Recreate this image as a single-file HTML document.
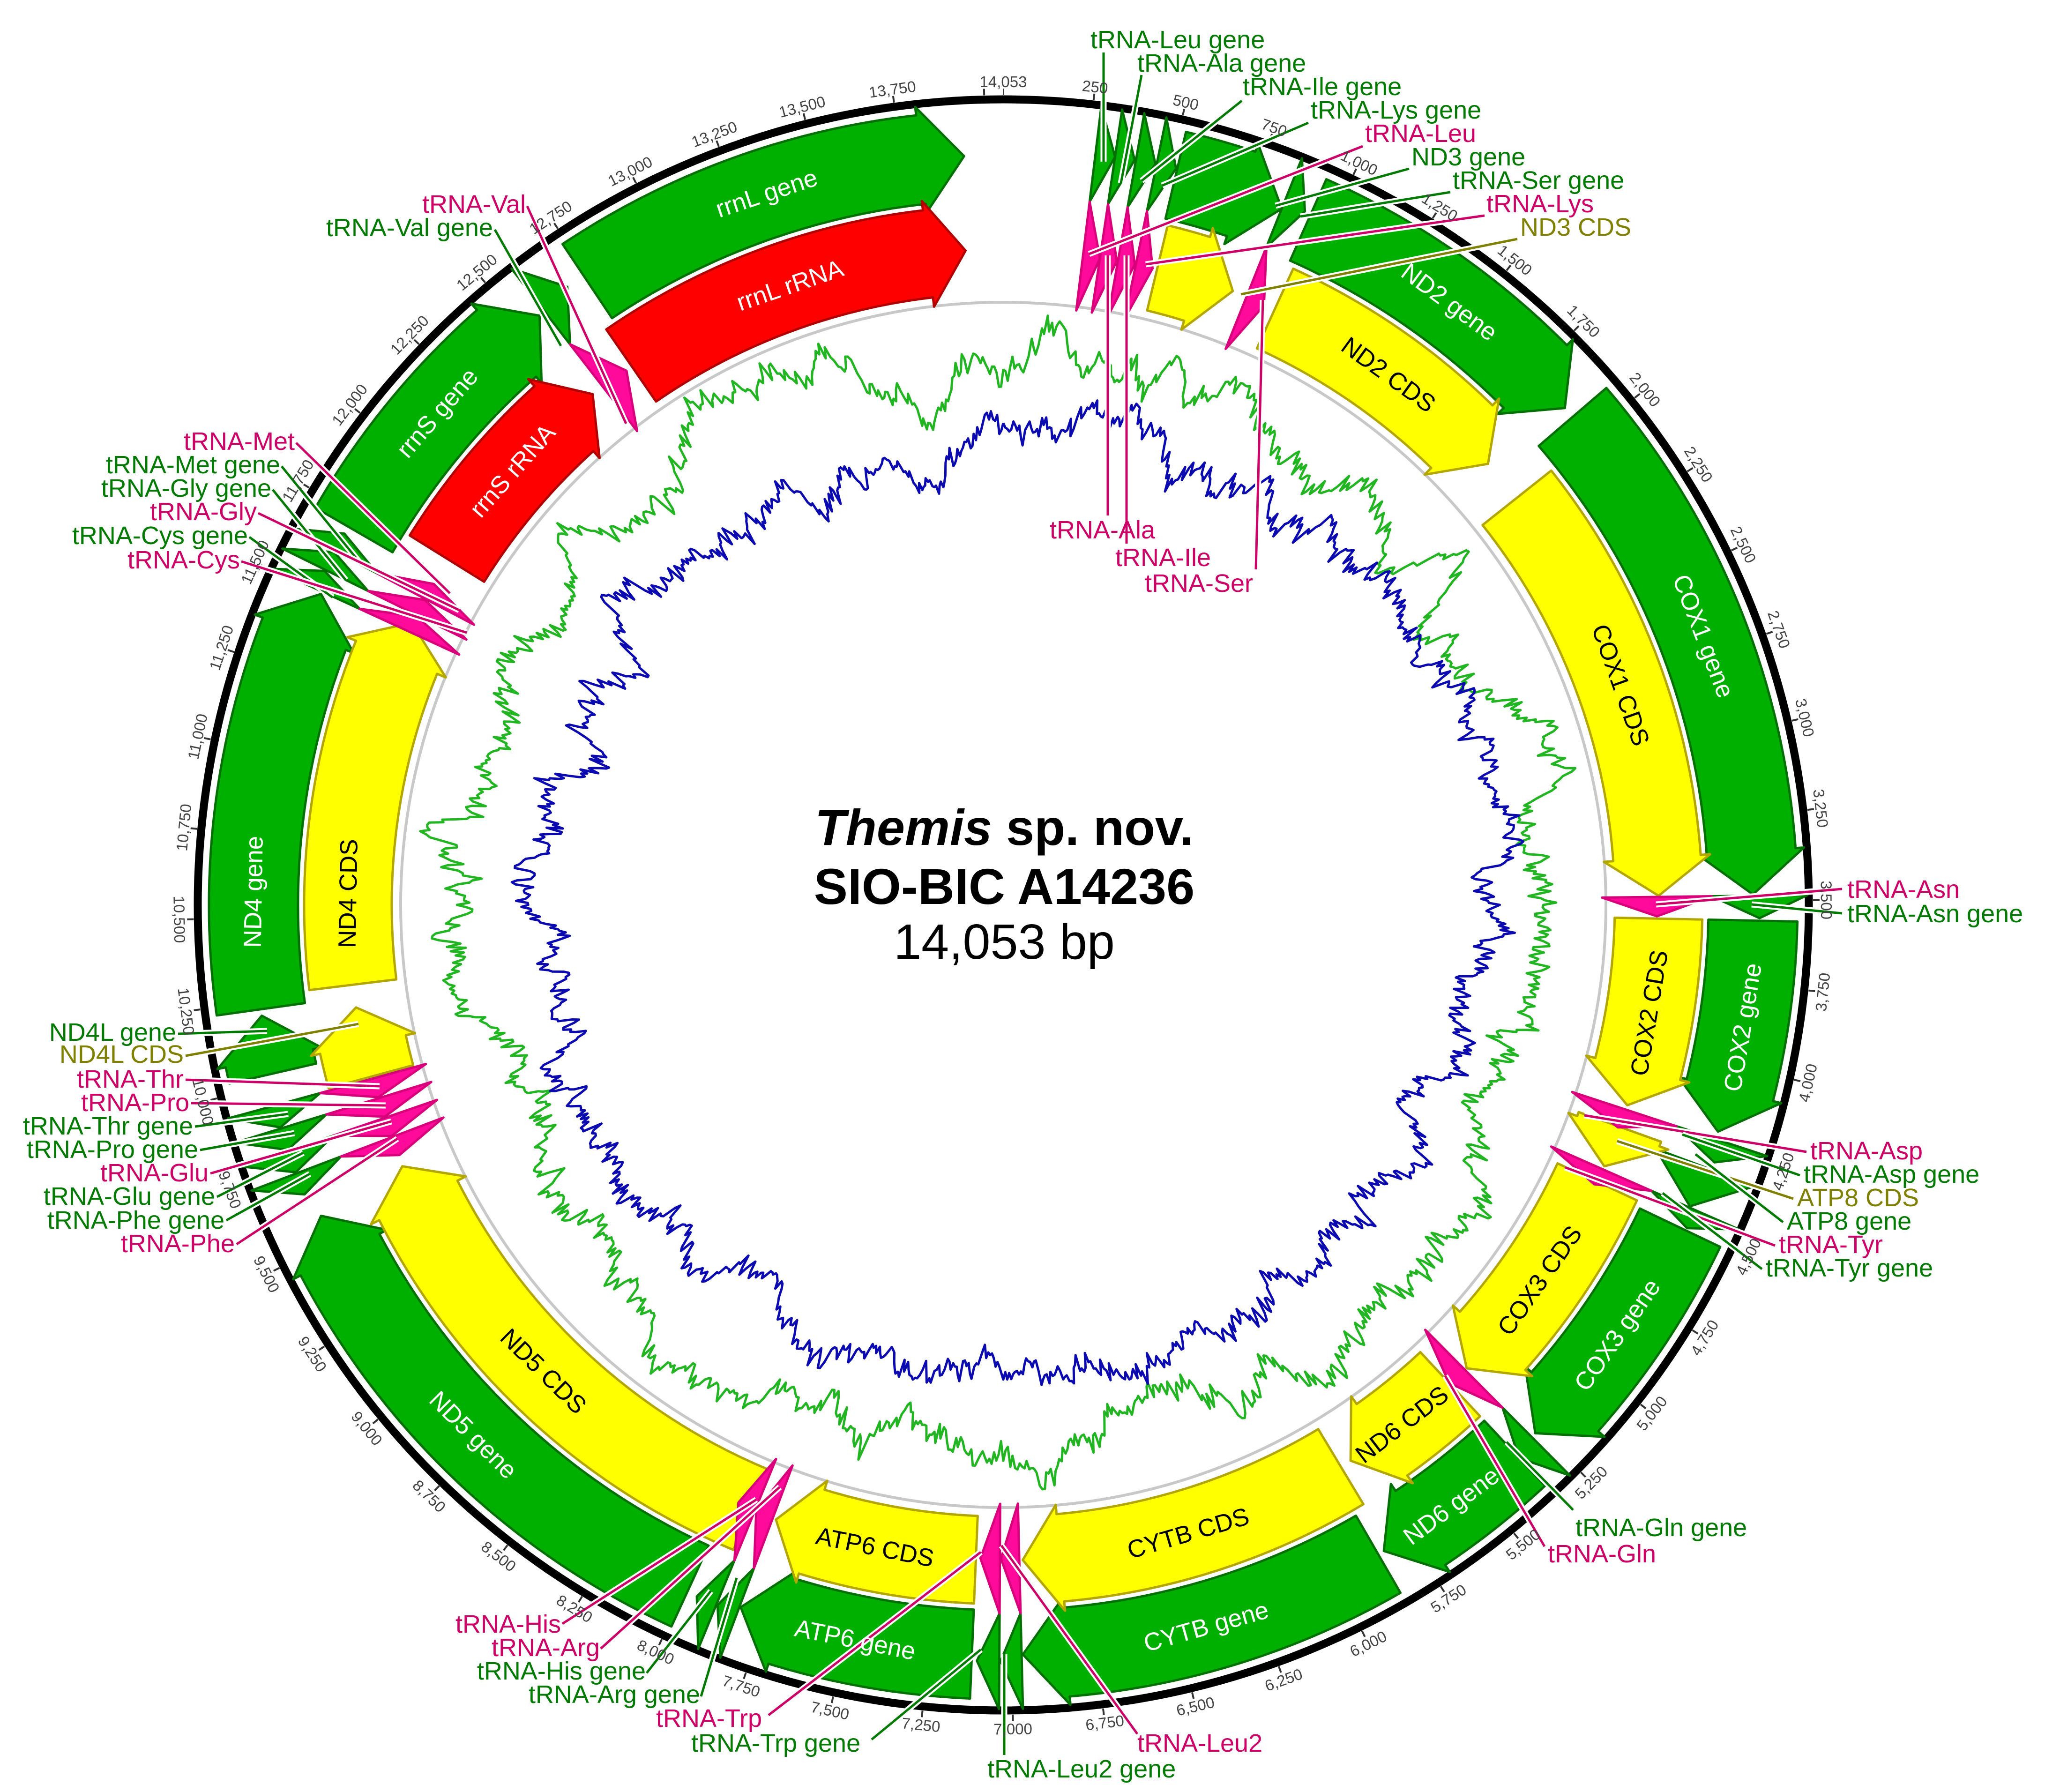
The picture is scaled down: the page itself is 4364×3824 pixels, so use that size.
<!DOCTYPE html>
<html><head><meta charset="utf-8"><style>
html,body{margin:0;padding:0;background:#fff;}
svg{display:block;}
.t{font-family:"Liberation Sans",sans-serif;font-size:54px;}
.tk{font-family:"Liberation Sans",sans-serif;font-size:33px;fill:#444;text-anchor:middle;}
.in{font-family:"Liberation Sans",sans-serif;font-size:53px;text-anchor:middle;dominant-baseline:central;}
.p{fill:#cc0066;} .g{fill:#007a00;} .o{fill:#808000;}
</style></head><body>
<svg id="s" xmlns="http://www.w3.org/2000/svg" width="4364" height="3824" viewBox="0 0 4364 3824">
<rect width="4364" height="3824" fill="#fff"/>
<circle cx="2141" cy="1931" r="1719" fill="none" stroke="#000" stroke-width="17"/>
<circle cx="2141" cy="1931" r="1735" fill="none" stroke="#333" stroke-width="14" stroke-dasharray="4 189.93" stroke-dashoffset="2" transform="rotate(-90 2141 1931)"/>
<circle cx="2141" cy="1931" r="1286" fill="none" stroke="#c8c8c8" stroke-width="6"/>
<g id="plot"></g>
<g id="feat"></g>
<g id="lead"></g>

<g class="tk">
<text x="2141" y="186">14,053</text>
<text transform="rotate(6.405 2141 1931)" x="2141" y="186">250</text>
<text transform="rotate(12.809 2141 1931)" x="2141" y="186">500</text>
<text transform="rotate(19.214 2141 1931)" x="2141" y="186">750</text>
<text transform="rotate(25.618 2141 1931)" x="2141" y="186">1,000</text>
<text transform="rotate(32.023 2141 1931)" x="2141" y="186">1,250</text>
<text transform="rotate(38.428 2141 1931)" x="2141" y="186">1,500</text>
<text transform="rotate(44.832 2141 1931)" x="2141" y="186">1,750</text>
<text transform="rotate(51.237 2141 1931)" x="2141" y="186">2,000</text>
<text transform="rotate(57.641 2141 1931)" x="2141" y="186">2,250</text>
<text transform="rotate(64.046 2141 1931)" x="2141" y="186">2,500</text>
<text transform="rotate(70.451 2141 1931)" x="2141" y="186">2,750</text>
<text transform="rotate(76.855 2141 1931)" x="2141" y="186">3,000</text>
<text transform="rotate(83.260 2141 1931)" x="2141" y="186">3,250</text>
<text transform="rotate(89.665 2141 1931)" x="2141" y="186">3,500</text>
<text transform="rotate(-83.931 2141 1931)" x="2141" y="3701">3,750</text>
<text transform="rotate(-77.526 2141 1931)" x="2141" y="3701">4,000</text>
<text transform="rotate(-71.122 2141 1931)" x="2141" y="3701">4,250</text>
<text transform="rotate(-64.717 2141 1931)" x="2141" y="3701">4,500</text>
<text transform="rotate(-58.312 2141 1931)" x="2141" y="3701">4,750</text>
<text transform="rotate(-51.908 2141 1931)" x="2141" y="3701">5,000</text>
<text transform="rotate(-45.503 2141 1931)" x="2141" y="3701">5,250</text>
<text transform="rotate(-39.099 2141 1931)" x="2141" y="3701">5,500</text>
<text transform="rotate(-32.694 2141 1931)" x="2141" y="3701">5,750</text>
<text transform="rotate(-26.289 2141 1931)" x="2141" y="3701">6,000</text>
<text transform="rotate(-19.885 2141 1931)" x="2141" y="3701">6,250</text>
<text transform="rotate(-13.480 2141 1931)" x="2141" y="3701">6,500</text>
<text transform="rotate(-7.076 2141 1931)" x="2141" y="3701">6,750</text>
<text transform="rotate(-0.671 2141 1931)" x="2141" y="3701">7,000</text>
<text transform="rotate(5.734 2141 1931)" x="2141" y="3701">7,250</text>
<text transform="rotate(12.138 2141 1931)" x="2141" y="3701">7,500</text>
<text transform="rotate(18.543 2141 1931)" x="2141" y="3701">7,750</text>
<text transform="rotate(24.947 2141 1931)" x="2141" y="3701">8,000</text>
<text transform="rotate(31.352 2141 1931)" x="2141" y="3701">8,250</text>
<text transform="rotate(37.757 2141 1931)" x="2141" y="3701">8,500</text>
<text transform="rotate(44.161 2141 1931)" x="2141" y="3701">8,750</text>
<text transform="rotate(50.566 2141 1931)" x="2141" y="3701">9,000</text>
<text transform="rotate(56.970 2141 1931)" x="2141" y="3701">9,250</text>
<text transform="rotate(63.375 2141 1931)" x="2141" y="3701">9,500</text>
<text transform="rotate(69.780 2141 1931)" x="2141" y="3701">9,750</text>
<text transform="rotate(76.184 2141 1931)" x="2141" y="3701">10,000</text>
<text transform="rotate(82.589 2141 1931)" x="2141" y="3701">10,250</text>
<text transform="rotate(88.993 2141 1931)" x="2141" y="3701">10,500</text>
<text transform="rotate(275.398 2141 1931)" x="2141" y="186">10,750</text>
<text transform="rotate(281.803 2141 1931)" x="2141" y="186">11,000</text>
<text transform="rotate(288.207 2141 1931)" x="2141" y="186">11,250</text>
<text transform="rotate(294.612 2141 1931)" x="2141" y="186">11,500</text>
<text transform="rotate(301.016 2141 1931)" x="2141" y="186">11,750</text>
<text transform="rotate(307.421 2141 1931)" x="2141" y="186">12,000</text>
<text transform="rotate(313.826 2141 1931)" x="2141" y="186">12,250</text>
<text transform="rotate(320.230 2141 1931)" x="2141" y="186">12,500</text>
<text transform="rotate(326.635 2141 1931)" x="2141" y="186">12,750</text>
<text transform="rotate(333.039 2141 1931)" x="2141" y="186">13,000</text>
<text transform="rotate(339.444 2141 1931)" x="2141" y="186">13,250</text>
<text transform="rotate(345.849 2141 1931)" x="2141" y="186">13,500</text>
<text transform="rotate(352.253 2141 1931)" x="2141" y="186">13,750</text>
</g>

<g class="in">
<text transform="rotate(341.6 2141 1931)" x="2141" y="331" fill="#fff">rrnL gene</text>
<text transform="rotate(341 2141 1931)" x="2141" y="533" fill="#fff">rrnL rRNA</text>
<text transform="rotate(311 2141 1931)" x="2141" y="331" fill="#fff">rrnS gene</text>
<text transform="rotate(311.5 2141 1931)" x="2141" y="533" fill="#fff">rrnS rRNA</text>
<text transform="rotate(36.5 2141 1931)" x="2141" y="331" fill="#fff">ND2 gene</text>
<text transform="rotate(36 2141 1931)" x="2141" y="533" fill="#000">ND2 CDS</text>
<text transform="rotate(69 2141 1931)" x="2141" y="331" fill="#fff">COX1 gene</text>
<text transform="rotate(70.4 2141 1931)" x="2141" y="533" fill="#000">COX1 CDS</text>
<text transform="rotate(-80.6 2141 1931)" x="2141" y="3531" fill="#fff">COX2 gene</text>
<text transform="rotate(-80.5 2141 1931)" x="2141" y="3329" fill="#000">COX2 CDS</text>
<text transform="rotate(-55 2141 1931)" x="2141" y="3531" fill="#fff">COX3 gene</text>
<text transform="rotate(-55 2141 1931)" x="2141" y="3329" fill="#000">COX3 CDS</text>
<text transform="rotate(-36.7 2141 1931)" x="2141" y="3531" fill="#fff">ND6 gene</text>
<text transform="rotate(-37.5 2141 1931)" x="2141" y="3329" fill="#000">ND6 CDS</text>
<text transform="rotate(-15.7 2141 1931)" x="2141" y="3531" fill="#fff">CYTB gene</text>
<text transform="rotate(-16.4 2141 1931)" x="2141" y="3329" fill="#000">CYTB CDS</text>
<text transform="rotate(11.4 2141 1931)" x="2141" y="3531" fill="#fff">ATP6 gene</text>
<text transform="rotate(11.3 2141 1931)" x="2141" y="3329" fill="#000">ATP6 CDS</text>
<text transform="rotate(45 2141 1931)" x="2141" y="3531" fill="#fff">ND5 gene</text>
<text transform="rotate(44.6 2141 1931)" x="2141" y="3329" fill="#000">ND5 CDS</text>
<text transform="rotate(271 2141 1931)" x="2141" y="331" fill="#fff">ND4 gene</text>
<text transform="rotate(271 2141 1931)" x="2141" y="533" fill="#000">ND4 CDS</text>
</g>

<g class="t">
<text class="g" x="2327" y="103">tRNA-Leu gene</text>
<text class="g" x="2427" y="153">tRNA-Ala gene</text>
<text class="g" x="2652" y="203">tRNA-Ile gene</text>
<text class="g" x="2797" y="253">tRNA-Lys gene</text>
<text class="p" x="2913" y="303">tRNA-Leu</text>
<text class="g" x="3012" y="353">ND3 gene</text>
<text class="g" x="3100" y="403">tRNA-Ser gene</text>
<text class="p" x="3172" y="453">tRNA-Lys</text>
<text class="o" x="3244" y="503">ND3 CDS</text>
<text class="p" x="2240" y="1149">tRNA-Ala</text>
<text class="p" x="2380" y="1208">tRNA-Ile</text>
<text class="p" x="2443" y="1263">tRNA-Ser</text>
<text class="p" x="3942" y="1916">tRNA-Asn</text>
<text class="g" x="3942" y="1968">tRNA-Asn gene</text>
<text class="p" x="3863" y="2474">tRNA-Asp</text>
<text class="g" x="3849" y="2524">tRNA-Asp gene</text>
<text class="o" x="3835" y="2574">ATP8 CDS</text>
<text class="g" x="3813" y="2624">ATP8 gene</text>
<text class="p" x="3796" y="2674">tRNA-Tyr</text>
<text class="g" x="3768" y="2724">tRNA-Tyr gene</text>
<text class="g" x="3362" y="3278">tRNA-Gln gene</text>
<text class="p" x="3303" y="3334">tRNA-Gln</text>
<text class="p" x="2427" y="3738">tRNA-Leu2</text>
<text class="g" x="2107" y="3793">tRNA-Leu2 gene</text>
<text class="p" x="1400" y="3685">tRNA-Trp</text>
<text class="g" x="1475" y="3738">tRNA-Trp gene</text>
<g text-anchor="end">
<text class="p" x="1197" y="3484">tRNA-His</text>
<text class="p" x="1280" y="3534">tRNA-Arg</text>
<text class="g" x="1378" y="3584">tRNA-His gene</text>
<text class="g" x="1494" y="3634">tRNA-Arg gene</text>
<text class="p" x="1122" y="454">tRNA-Val</text>
<text class="g" x="1052" y="504">tRNA-Val gene</text>
<text class="p" x="629" y="960">tRNA-Met</text>
<text class="g" x="598" y="1010">tRNA-Met gene</text>
<text class="g" x="579" y="1060">tRNA-Gly gene</text>
<text class="p" x="548" y="1110">tRNA-Gly</text>
<text class="g" x="529" y="1161">tRNA-Cys gene</text>
<text class="p" x="512" y="1213">tRNA-Cys</text>
<text class="g" x="376" y="2221">ND4L gene</text>
<text class="o" x="392" y="2268">ND4L CDS</text>
<text class="p" x="392" y="2321">tRNA-Thr</text>
<text class="p" x="404" y="2371">tRNA-Pro</text>
<text class="g" x="412" y="2421">tRNA-Thr gene</text>
<text class="g" x="423" y="2471">tRNA-Pro gene</text>
<text class="p" x="445" y="2521">tRNA-Glu</text>
<text class="g" x="459" y="2571">tRNA-Glu gene</text>
<text class="g" x="479" y="2622">tRNA-Phe gene</text>
<text class="p" x="501" y="2672">tRNA-Phe</text>
</g>
</g>

<g font-family="Liberation Sans, sans-serif" text-anchor="middle" fill="#000">
<text x="2143" y="1803" font-size="108" font-weight="bold"><tspan font-style="italic">Themis</tspan> sp. nov.</text>
<text x="2143" y="1929" font-size="108" font-weight="bold">SIO-BIC A14236</text>
<text x="2143" y="2046" font-size="106">14,053 bp</text>
</g>
</svg>
<script>
(function(){
var cx=2141,cy=1931,NS="http://www.w3.org/2000/svg";
function P(a,r){a=a*Math.PI/180;return (cx+r*Math.sin(a)).toFixed(1)+","+(cy-r*Math.cos(a)).toFixed(1);}
function arrow(a1,a2,ri,ro,dir,h,ext){
 var len=a2-a1;h=Math.min(h,len);var rm=(ri+ro)/2,d;
 if(dir>0){var hb=a2-h;
  if(hb>a1+0.01) d="M"+P(a1,ri)+"L"+P(a1,ro)+"A"+ro+" "+ro+" 0 0 1 "+P(hb,ro)+"L"+P(hb,ro+ext)+"L"+P(a2,rm)+"L"+P(hb,ri-ext)+"L"+P(hb,ri)+"A"+ri+" "+ri+" 0 0 0 "+P(a1,ri)+"Z";
  else d="M"+P(a1,ri-ext)+"L"+P(a1,ro+ext)+"L"+P(a2,rm)+"Z";
 } else {var hb=a1+h;
  if(hb<a2-0.01) d="M"+P(a2,ri)+"L"+P(a2,ro)+"A"+ro+" "+ro+" 0 0 0 "+P(hb,ro)+"L"+P(hb,ro+ext)+"L"+P(a1,rm)+"L"+P(hb,ri-ext)+"L"+P(hb,ri)+"A"+ri+" "+ri+" 0 0 1 "+P(a2,ri)+"Z";
  else d="M"+P(a2,ri-ext)+"L"+P(a2,ro+ext)+"L"+P(a1,rm)+"Z";
 }
 return d;
}
var C={G:["#00b000","#007000"],Y:["#ffff00","#b3a600"],R:["#ff0000","#b00000"],K:["#ff0a9a","#d8007a"]};
var fg=document.getElementById("feat");
function add(d,c){var p=document.createElementNS(NS,"path");p.setAttribute("d",d);p.setAttribute("fill",C[c][0]);p.setAttribute("stroke",C[c][1]);p.setAttribute("stroke-width","5");p.setAttribute("stroke-linejoin","round");fg.appendChild(p);}
var genes=[[326.3,357],[300,321.8],[262,294.5],[257,261.5],[204.7,245.5],[182.4,200.5],[150,178.5],[137,149.5],[115.5,134.8],[110.5,113.7],[91.2,107.6],[49.4,89.2],[24,48.5],[13.3,21.8]];
genes.forEach(function(g){add(arrow(g[0],g[1],1505,1695,1,3.3,18),"G");});
var cds=[[325.4,356.7,"R"],[301.9,321.2,"R"],[263,295.5,"Y"],[254.8,261,"Y"],[202.7,246.5,"Y"],[182.4,200.3,"Y"],[149,178.3,"Y"],[137,148,"Y"],[115,135,"Y"],[109.8,113.5,"Y"],[91.2,107.8,"Y"],[51.6,89.2,"Y"],[24.5,47.7,"Y"],[13.6,20.5,"Y"]];
cds.forEach(function(g){add(arrow(g[0],g[1],1305,1492,1,3.3,20),g[2]);});
var tr=[[7.0,8.5,1],[8.5,10.0,1],[10.1,11.6,1],[11.7,13.2,1],[21.8,23.5,1],[89.3,91,1],[108.2,109.9,1],[113.8,115.3,1],[135.2,137,1],[178.6,180.2,1],[180.3,182,1],[200.6,202.2,1],[202.3,203.9,1],[247.5,249.2,-1],[249.3,251,-1],[251.1,252.8,-1],[252.9,254.6,-1],[294.7,296.2,1],[296.3,297.8,1],[297.9,299.4,1],[322.3,324.8,1]];
tr.forEach(function(t){add(arrow(t[0],t[1],1512,1716,t[2],9,0),"G");add(arrow(t[0],t[1],1278,1512,t[2],9,0),"K");});
var Pk="#cc0066",Gk="#007a00",Ok="#808000";
var L=[[2355,112,2355,345,Gk],[2436,160,2392,391,Gk],[2650,215,2436,386,Gk],[2792,262,2480,396,Gk],[2908,312,2324,542,Pk],[3007,360,2722,439,Gk],[3095,410,2775,462,Gk],[3168,460,2445,564,Pk],[3238,510,2648,628,Ok],
[2364,545,2364,1100,Pk],[2404,545,2404,1160,Pk],[2695,640,2680,1215,Pk],
[3931,1897,3534,1930,Pk],[3931,1949,3738,1930,Gk],
[3855,2458,3381,2380,Pk],[3841,2508,3590,2421,Gk],[3827,2558,3451,2435,Ok],[3805,2608,3618,2463,Gk],[3788,2658,3340,2491,Pk],[3760,2708,3548,2546,Gk],
[3357,3222,3215,3077,Gk],[3296,3300,3084,2936,Pk],
[2427,3700,2137,3298,Pk],[2143,3745,2143,3530,Gk],[1640,3660,2093,3312,Pk],[1860,3712,2093,3520,Gk],
[1200,3465,1614,3200,Pk],[1282,3518,1664,3173,Pk],[1380,3570,1517,3395,Gk],[1496,3620,1572,3367,Gk],
[1125,440,1336,904,Pk],[1056,490,1197,738,Gk],
[632,945,960,1266,Pk],[601,995,765,1197,Gk],[582,1045,738,1238,Gk],[551,1095,980,1302,Pk],[532,1146,710,1275,Gk],[515,1198,996,1350,Pk],
[380,2206,570,2200,Gk],[396,2253,765,2185,Ok],[396,2304,810,2318,Pk],[408,2354,823,2359,Pk],[416,2404,615,2377,Gk],[427,2454,628,2418,Gk],[449,2504,835,2393,Pk],[463,2554,647,2460,Gk],[483,2604,661,2505,Gk],[505,2655,848,2430,Pk]];
var lg=document.getElementById("lead");
L.forEach(function(l){
 [["#fff",13],[l[4],5]].forEach(function(s){var e=document.createElementNS(NS,"line");e.setAttribute("x1",l[0]);e.setAttribute("y1",l[1]);e.setAttribute("x2",l[2]);e.setAttribute("y2",l[3]);e.setAttribute("stroke",s[0]);e.setAttribute("stroke-width",s[1]);lg.appendChild(e);});
});
var seed=12345;function rnd(){seed=(seed*16807)%2147483647;return seed/2147483647;}
function plot(base,col,amp){var N=1500,v=0,vals=[];for(var i=0;i<=N;i++){v=v*0.96+(rnd()-0.5)*amp;vals.push(v+(rnd()-0.5)*30);}
 var d0=vals[N]-vals[0],pts=[];for(var i=0;i<=N;i++){pts.push(P(i/N*360,base+vals[i]-d0*i/N));}
 var pl=document.createElementNS(NS,"polyline");pl.setAttribute("points",pts.join(" "));pl.setAttribute("fill","none");pl.setAttribute("stroke",col);pl.setAttribute("stroke-width","5");pl.setAttribute("stroke-linejoin","round");document.getElementById("plot").appendChild(pl);}
plot(1150,"#22b522",42);plot(1035,"#0a0ab0",38);
})();
</script>
</body></html>
